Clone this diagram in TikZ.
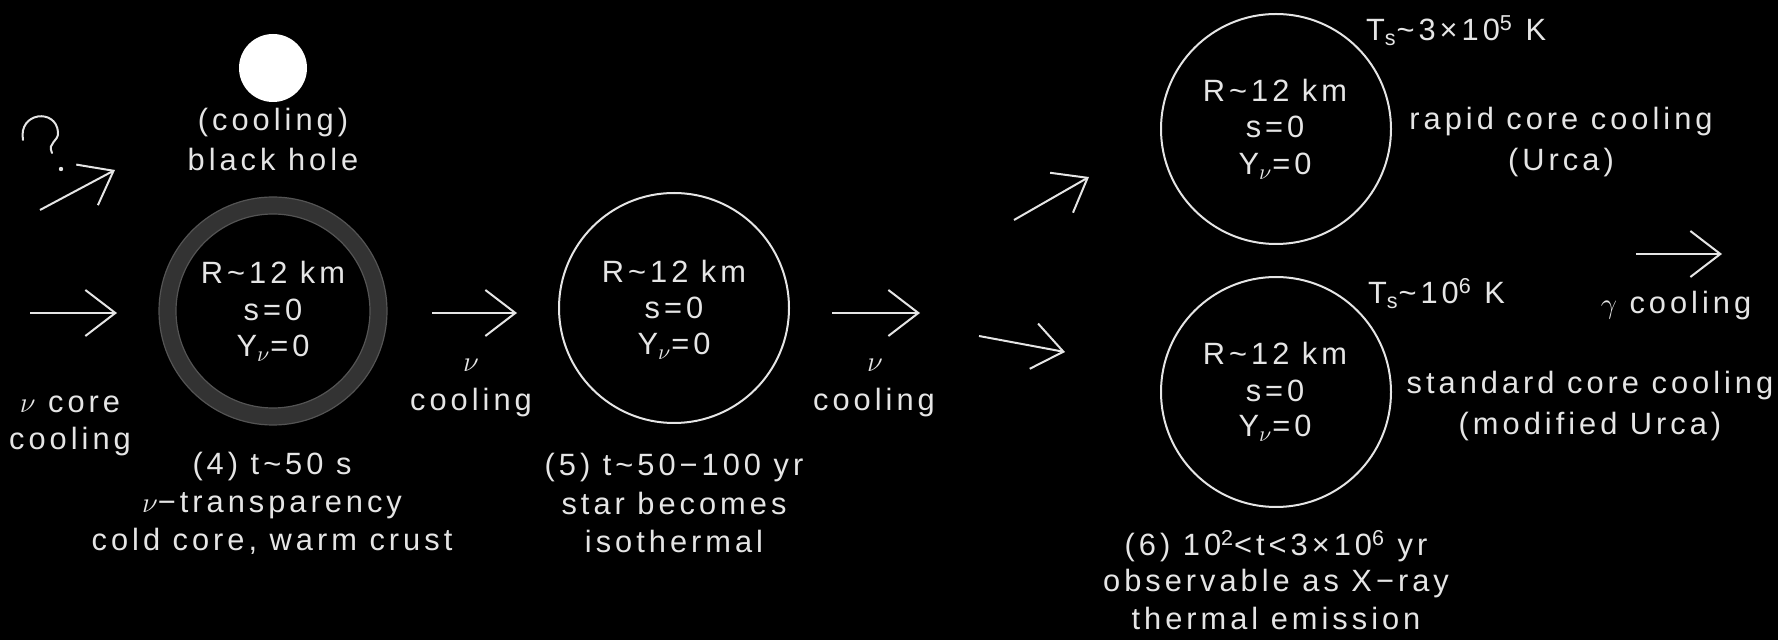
\documentclass[tikz,border=0pt]{standalone}
\usepackage{fontspec}
\setmainfont{Liberation Sans}[LetterSpace=13]
\usetikzlibrary{arrows.meta}
\definecolor{ink}{gray}{0.9}
\definecolor{crust}{gray}{0.2}
\definecolor{crustedge}{gray}{0.33}

\tikzset{
  every node/.style={text=ink, inner sep=0pt, outer sep=0pt,
    font=\fontsize{15.4}{18.5}\selectfont},
  lbl/.style={anchor=base},
  lblw/.style={anchor=base west},
  star/.style={circle, draw=ink, line width=1pt, minimum size=115pt},
  flow/.style={draw=ink, line width=1pt,
    -{Straight Barb[length=15pt,width=23pt,line width=1pt]}},
}
\newcommand{\Yn}{Y\textsubscript{$\nu$}=0}
\newcommand{\tl}{\textasciitilde}

\begin{document}
\begin{tikzpicture}[x=0.5pt,y=-0.5pt]
\fill[black] (0,0) rectangle (1778,640);
\useasboundingbox (0,0) rectangle (1778,640);

% ---------- black hole branch ----------
\node[circle, fill=white, minimum size=34pt] (bh) at (273,68) {};
\node[lbl] (bh1) at (273,131) {(cooling)};
\node[lbl] (bh2) at (273,171) {black hole};
\draw[ink, line width=1pt, line cap=round]
  (23,140) .. controls (18,112) and (56,108) .. (58,132)
           .. controls (59,142) and (47,142) .. (52,153);
\fill[ink] (61,169) circle (2.2);
\coordinate (q0) at (40,210);
\coordinate (q1) at (115,170);
\draw[flow] (q0) -- (q1);

% ---------- stage 4: cold core, warm crust ----------
\coordinate (a1s) at (30,313);
\coordinate (a1e) at (117,313);
\draw[flow] (a1s) -- (a1e);
\node[lbl] (nc1) at (70,413) {$\nu$ core};
\node[lbl] (nc2) at (70,450) {cooling};

\node[circle, draw=crust, line width=8.5pt, minimum size=105.5pt] (s4) at (273,311) {};
\draw[crustedge, line width=0.6pt] (s4.center) circle (114);
\draw[crustedge, line width=0.6pt] (s4.center) circle (97);
\node[lbl] (s4a) at (273,284) {R\tl12 km};
\node[lbl] (s4b) at (273,321) {s=0};
\node[lbl] (s4c) at (273,357) {\Yn};
\node[lbl] (t4a) at (272,475) {(4) t\tl50 s};
\node[lbl] (t4b) at (272,513) {$\nu$−transparency};
\node[lbl] (t4c) at (272,551) {cold core, warm crust};

% ---------- stage 5: isothermal star ----------
\coordinate (a2s) at (432,313);
\coordinate (a2e) at (517,313);
\draw[flow] (a2s) -- (a2e);
\node[lbl] (c1a) at (471,372) {$\nu$};
\node[lbl] (c1b) at (471,411) {cooling};

\node[star] (s5) at (674,308) {};
\node[lbl] (s5a) at (674,283) {R\tl12 km};
\node[lbl] (s5b) at (674,319) {s=0};
\node[lbl] (s5c) at (674,355) {\Yn};
\node[lbl] (t5a) at (674,476) {(5) t\tl50−100 yr};
\node[lbl] (t5b) at (674,515) {star becomes};
\node[lbl] (t5c) at (674,553) {isothermal};

\coordinate (a3s) at (832,313);
\coordinate (a3e) at (920,313);
\draw[flow] (a3s) -- (a3e);
\node[lbl] (c2a) at (875,372) {$\nu$};
\node[lbl] (c2b) at (874,411) {cooling};

% ---------- stage 6: two cooling scenarios ----------
\coordinate (a4s) at (1014,220);
\coordinate (a4e) at (1089,177);
\draw[flow] (a4s) -- (a4e);
\coordinate (a5s) at (979,336);
\coordinate (a5e) at (1065,352);
\draw[flow] (a5s) -- (a5e);

\node[star] (s6a) at (1276,129) {};
\node[lbl] (s6a1) at (1275,102) {R\tl12 km};
\node[lbl] (s6a2) at (1275,138) {s=0};
\node[lbl] (s6a3) at (1275,175) {\Yn};
\node[lblw] (ts1) at (1366,41) {T\textsubscript{s}\tl3×10\textsuperscript{5} K};
\node[lbl] (r1) at (1561,130) {rapid core cooling};
\node[lbl] (r2) at (1561,171) {(Urca)};

\node[star] (s6b) at (1276,392) {};
\node[lbl] (s6b1) at (1275,365) {R\tl12 km};
\node[lbl] (s6b2) at (1275,402) {s=0};
\node[lbl] (s6b3) at (1275,437) {\Yn};
\node[lblw] (ts2) at (1368,304) {T\textsubscript{s}\tl10\textsuperscript{6} K};
\node[lbl] (m1) at (1590,394) {standard core cooling};
\node[lbl] (m2) at (1590,435) {(modified Urca)};

\coordinate (a6s) at (1636,254);
\coordinate (a6e) at (1722,254);
\draw[flow] (a6s) -- (a6e);
\node[lbl] (gc) at (1676,314) {$\gamma$ cooling};

\node[lbl] (t6a) at (1276,556) {(6) 10\textsuperscript{2}<t<3×10\textsuperscript{6} yr};
\node[lbl] (t6b) at (1276,592) {observable as X−ray};
\node[lbl] (t6c) at (1276,630) {thermal emission};
\end{tikzpicture}
\end{document}
